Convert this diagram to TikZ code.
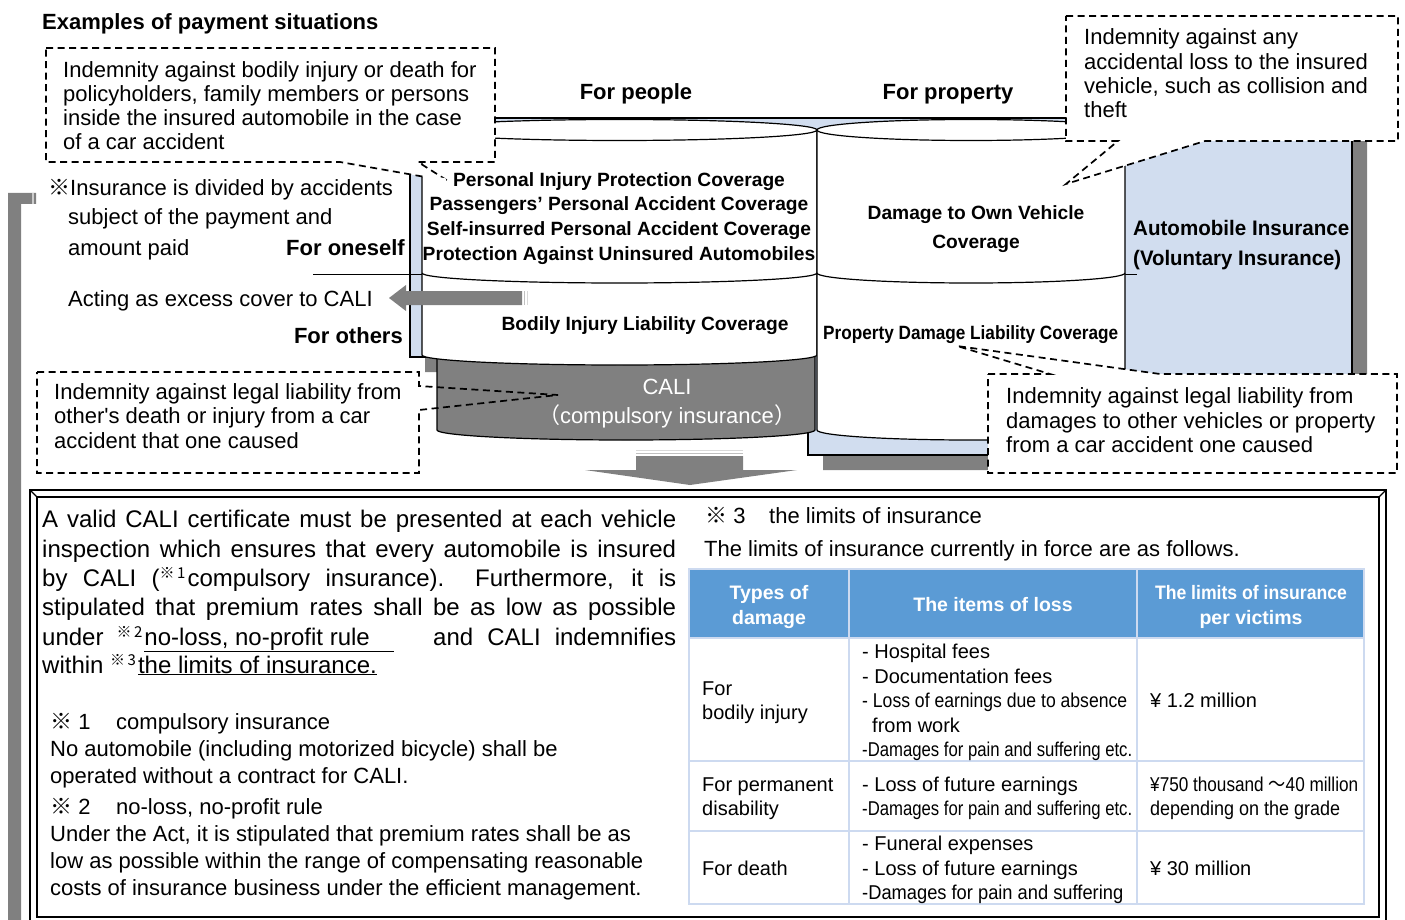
\documentclass[tikz,border=0pt]{standalone}
\usepackage{fontspec}
\usepackage{graphicx}
\setmainfont{Liberation Sans}
\newfontfamily\cjk{Noto Sans CJK JP}
\newfontfamily\plainarial{Liberation Sans}
\newcommand\fs[1]{\fontsize{#1}{#1}\selectfont}
\newcommand\fitw[2]{\resizebox{#1}{\height}{#2}}
\newcommand\refmk[1]{\raisebox{8pt}{\fs{15}\cjk ※\,#1}\hspace{2pt}}
\definecolor{bfill}{RGB}{209,221,239}
\definecolor{shad}{RGB}{128,128,128}
\definecolor{hdr}{RGB}{91,155,213}
\definecolor{tline}{RGB}{205,218,240}
\begin{document}
\begin{tikzpicture}[x=1pt,y=-1pt,
  tx/.style={inner sep=0pt, anchor=base west, font=\fs{22}},
  txc/.style={inner sep=0pt, anchor=base, font=\fs{22}},
  txr/.style={inner sep=0pt, anchor=base east, font=\fs{22}},
  lab/.style={inner sep=0pt, anchor=base, font=\bfseries\fs{19.2}},
  tb/.style={inner sep=0pt, anchor=base west, font=\fs{20}},
  th/.style={inner sep=0pt, anchor=base, font=\bfseries\fs{19.5}, text=white},
  callout/.style={draw=black, dash pattern=on 7pt off 4.5pt, line width=1.7pt},
  edge/.style={line width=1.2pt}]
\useasboundingbox (0,0) rectangle (1405,920);
\fill[white] (0,0) rectangle (1405,920);

% left grey bar
\fill[shad] (8,193) -- (36,193) -- (36,204) -- (21,204) -- (21,920) -- (8,920) -- cycle;
\fill[shad!40] (32,193) rectangle (34,204);

% blue frame with shadow
\fill[shad] (425,133) -- (1367,133) -- (1367,470) -- (823,470) -- (823,372) -- (425,372) -- cycle;
\filldraw[fill=bfill, draw=black, edge] (410,118) -- (1352,118) -- (1352,455) -- (808,455) -- (808,357) -- (410,357) -- cycle;

% divider line
\draw[line width=1pt] (313,274) -- (1137,274);

% CALI cylinder
\filldraw[fill=shad, draw=black, edge] (437,350) -- (437,430) arc[start angle=180, end angle=0, x radius=189, y radius=10] -- (815,350) -- cycle;

% left cylinder
\filldraw[fill=white, edge] (422,130) -- (422,355) arc[start angle=180, end angle=0, x radius=197.5, y radius=10] -- (817,130) -- cycle;
\filldraw[fill=white, edge] (619.5,130) ellipse[x radius=197.5, y radius=10.5];
\draw[edge] (422,273) arc[start angle=180, end angle=0, x radius=197.5, y radius=10];

% right cylinder
\filldraw[fill=white, edge] (817,130) -- (817,430) arc[start angle=180, end angle=0, x radius=154, y radius=10] -- (1125,130) -- cycle;
\filldraw[fill=white, edge] (971,130) ellipse[x radius=154, y radius=10.5];
\draw[edge] (817,273) arc[start angle=180, end angle=0, x radius=154, y radius=10];

% callouts
\path[callout, fill=white] (46,48) -- (495,48) -- (495,162) -- (418,162) -- (448,181) -- (340,162) -- (46,162) -- cycle;
\fill[white] (423.5,174) -- (446,178.5) -- (446,186) -- (423.5,186) -- cycle;
\path[callout, fill=white] (1066,16) -- (1398,16) -- (1398,141) -- (1205,141) -- (1066,184) -- (1118,141) -- (1066,141) -- cycle;
\path[callout, fill=white] (988,374) -- (1050,374) -- (957,346) -- (1160,374) -- (1397,374) -- (1397,473) -- (988,473) -- cycle;
\fill[white] (37,372) rectangle (419,473);
\path[callout] (37,372) -- (419,372) -- (419,386) -- (558,395) -- (419,410) -- (419,473) -- (37,473) -- cycle;

% arrows
\fill[shad] (522,291) -- (406,291) -- (406,285) -- (389,298) -- (406,311) -- (406,305) -- (522,305) -- cycle;
\fill[shad!50] (523.5,291) rectangle (525,305);
\fill[shad!30] (526.5,291) rectangle (528,305);
\fill[shad] (636,456) -- (743,456) -- (743,470) -- (797,470) -- (690,485) -- (585,470) -- (636,470) -- cycle;
\fill[shad!50] (636,452.5) rectangle (743,454);
\fill[shad!30] (636,450) rectangle (743,451.2);

% texts top
\node[tx, font=\bfseries\fs{22}] (title) at (42,30) {Examples of payment situations};
\node[tx] (b1a) at (63,78) {Indemnity against bodily injury or death for};
\node[tx] (b1b) at (63,102) {policyholders, family members or persons};
\node[tx] (b1c) at (63,126) {inside the insured automobile in the case};
\node[tx] (b1d) at (63,150) {of a car accident};
\node[tx] (b2a) at (1084,45) {Indemnity against any};
\node[tx] (b2b) at (1084,70) {accidental loss to the insured};
\node[tx] (b2c) at (1084,94) {vehicle, such as collision and};
\node[tx] (b2d) at (1084,118) {theft};
\node[tx] (b3a) at (54,399) {Indemnity against legal liability from};
\node[tx] (b3b) at (54,423) {other{\plainarial '}s death or injury from a car};
\node[tx] (b3c) at (54,448) {accident that one caused};
\node[tx] (b4a) at (1006,403) {Indemnity against legal liability from};
\node[tx] (b4b) at (1006,428) {damages to other vehicles or property};
\node[tx] (b4c) at (1006,452) {from a car accident one caused};

\node[tx] (ins1) at (48,196) {{\cjk ※}Insurance is divided by accidents};
\node[tx] (ins2) at (68,225) {subject of the payment and};
\node[tx] (ins3) at (68,255) {amount paid};
\node[tx] (excess) at (68,306) {Acting as excess cover to CALI};

\node[txc, font=\bfseries\fs{22}] (people) at (636,100) {For people};
\node[txc, font=\bfseries\fs{22}] (property) at (948,100) {For property};
\node[txr, font=\bfseries\fs{22}] (oneself) at (405,255) {For oneself};
\node[txr, font=\bfseries\fs{22}] (others) at (403,343) {For others};

\node[lab] (c1) at (619,186) {Personal Injury Protection Coverage};
\node[lab] (c2) at (619,211) {Passengers’ Personal Accident Coverage};
\node[lab] (c3) at (619,235) {Self-insurred Personal Accident Coverage};
\node[lab] (c4) at (619,260) {Protection Against Uninsured Automobiles};
\node[lab] (c5) at (645,330) {Bodily Injury Liability Coverage};
\node[lab] (c6) at (976,219) {Damage to Own Vehicle};
\node[lab] (c7) at (976,248) {Coverage};
\node[lab, anchor=base west] (c8) at (823,339) {\fitw{295pt}{Property Damage Liability Coverage}};
\node[lab, anchor=base west, font=\bfseries\fs{21}] (auto1) at (1133,236) {\fitw{216pt}{Automobile Insurance}};
\node[lab, anchor=base west, font=\bfseries\fs{21}] (auto2) at (1133,265) {\fitw{208pt}{(Voluntary Insurance)}};
\node[txc, text=white] (cali1) at (667,394) {CALI};
\node[txc, text=white] (cali2) at (667,423) {{\cjk （}compulsory insurance{\cjk ）}};

% bottom frame
\draw[edge] (30,925) -- (30,490) -- (1386,490) -- (1386,925);
\draw[edge] (37,917) -- (37,497) -- (1379,497) -- (1379,917) -- cycle;
\draw[edge] (30,490) -- (37,497);
\draw[edge] (1386,490) -- (1379,497);

% paragraph
\node[tx, font=\fs{24}] (p1) at (42,527) {\makebox[634pt][s]{A valid CALI certificate must be presented at each vehicle}};
\node[tx, font=\fs{24}] (p2) at (42,557) {\makebox[634pt][s]{inspection which ensures that every automobile is insured}};
\node[tx, font=\fs{24}] (p3) at (42,586) {\makebox[634pt][s]{by CALI (\refmk{1}compulsory insurance).\ \ Furthermore, it is}};
\node[tx, font=\fs{24}] (p4) at (42,615) {\makebox[634pt][s]{stipulated that premium rates shall be as low as possible}};
\node[tx, font=\fs{24}] (p5) at (42,645) {\makebox[634pt][l]{under\hspace{13pt}\refmk{2}\underline{no-loss,\ no-profit\ rule\hspace{24pt}}\hfill\makebox[243pt][s]{and CALI indemnifies}}};
\node[tx, font=\fs{24}] (p6) at (42,673) {within \refmk{3}\underline{the limits of insurance.}};

% footnotes
\node[tx] (f1m) at (50,729) {{\cjk ※} 1};
\node[tx] (f1t) at (116,729) {compulsory insurance};
\node[tx] (f1a) at (50,756) {No automobile (including motorized bicycle) shall be};
\node[tx] (f1b) at (50,783) {operated without a contract for CALI.};
\node[tx] (f2m) at (50,814) {{\cjk ※} 2};
\node[tx] (f2t) at (116,814) {no-loss, no-profit rule};
\node[tx] (f2a) at (50,841) {Under the Act, it is stipulated that premium rates shall be as};
\node[tx] (f2b) at (50,868) {low as possible within the range of compensating reasonable};
\node[tx] (f2c) at (50,895) {costs of insurance business under the efficient management.};
\node[tx] (f3m) at (705,523) {{\cjk ※} 3};
\node[tx] (f3t) at (769,523) {the limits of insurance};
\node[tx] (f3a) at (704,556) {The limits of insurance currently in force are as follows.};

% table
\fill[hdr] (689,569) rectangle (1364,638);
\draw[tline, line width=2.5pt] (689,569) rectangle (1364,904);
\draw[tline, line width=2.5pt] (849,569) -- (849,904);
\draw[tline, line width=2.5pt] (1137,569) -- (1137,904);
\draw[tline, line width=2.5pt] (689,638) -- (1364,638);
\draw[tline, line width=2.5pt] (689,761) -- (1364,761);
\draw[tline, line width=2.5pt] (689,831) -- (1364,831);

\node[th] (h1a) at (769,599) {Types of};
\node[th] (h1b) at (769,624) {damage};
\node[th] (h2) at (993,611) {The items of loss};
\node[th] (h3a) at (1251,599) {\fitw{192pt}{The limits of insurance}};
\node[th] (h3b) at (1251,624) {per victims};

\node[tb] (r1a) at (702,695) {For};
\node[tb] (r1b) at (702,719) {bodily injury};
\node[tb] (r1c) at (862,658) {- Hospital fees};
\node[tb] (r1d) at (862,683) {- Documentation fees};
\node[tb] (r1e) at (862,707) {\fitw{265pt}{- Loss of earnings due to absence}};
\node[tb] (r1f) at (872,732) {from work};
\node[tb] (r1g) at (862,756) {\fitw{270pt}{-Damages for pain and suffering etc.}};
\node[tb] (r1h) at (1150,707) {¥ 1.2 million};

\node[tb] (r2a) at (702,791) {For permanent};
\node[tb] (r2b) at (702,815) {disability};
\node[tb] (r2c) at (862,791) {- Loss of future earnings};
\node[tb] (r2d) at (862,815) {\fitw{270pt}{-Damages for pain and suffering etc.}};
\node[tb] (r2e) at (1150,791) {\fitw{208pt}{¥750 thousand {\cjk ～}40 million}};
\node[tb] (r2f) at (1150,815) {\fitw{190pt}{depending on the grade}};

\node[tb] (r3a) at (702,875) {For death};
\node[tb] (r3b) at (862,850) {- Funeral expenses};
\node[tb] (r3c) at (862,875) {- Loss of future earnings};
\node[tb] (r3d) at (862,899) {\fitw{261pt}{-Damages for pain and suffering}};
\node[tb] (r3e) at (1150,875) {¥ 30 million};
\end{tikzpicture}
\end{document}
